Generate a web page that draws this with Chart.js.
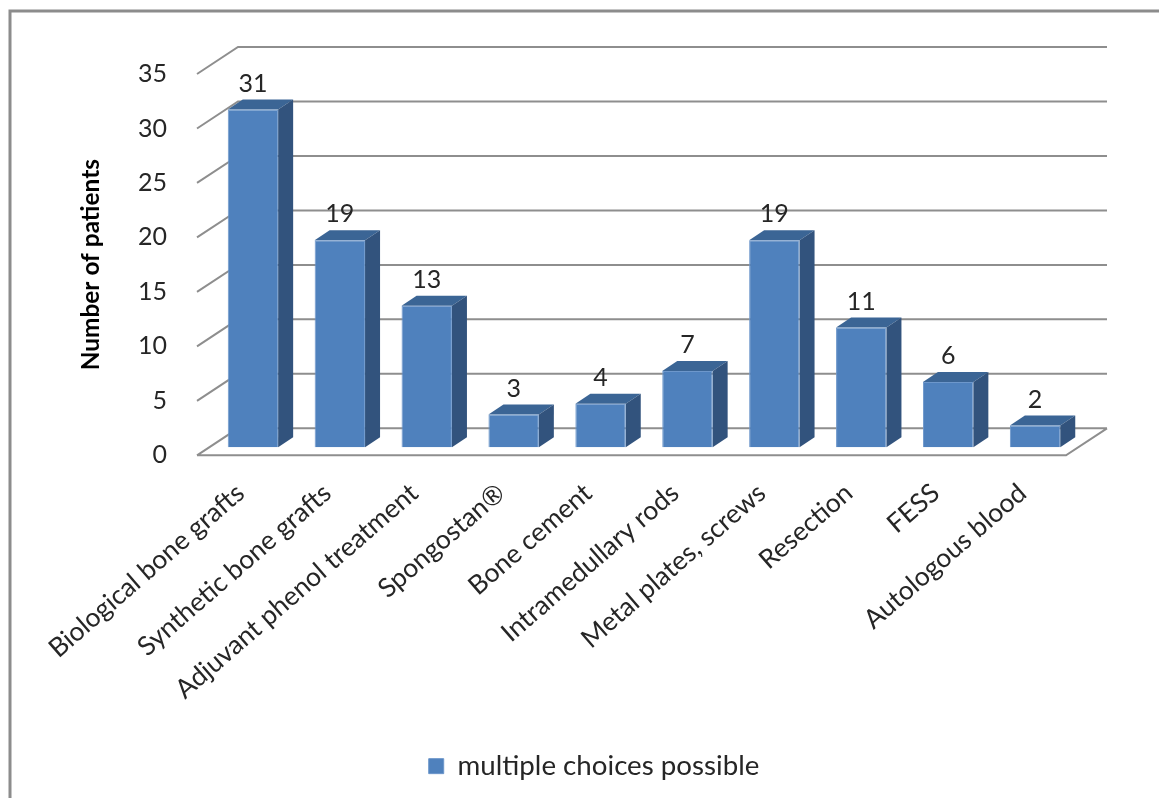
<!DOCTYPE html>
<html>
<head>
<meta charset="utf-8">
<title>Number of patients</title>
<script src="https://cdn.jsdelivr.net/npm/chart.js@4"></script>
<style>
  html, body { margin: 0; padding: 0; background: #fff; overflow: hidden; }
  canvas { display: block; }
</style>
</head>
<body>
<canvas id="chart" width="1159" height="798"></canvas>
<script>
const categories = [
  "Biological bone grafts",
  "Synthetic bone grafts",
  "Adjuvant phenol treatment",
  "Spongostan®",
  "Bone cement",
  "Intramedullary rods",
  "Metal plates, screws",
  "Resection",
  "FESS",
  "Autologous blood",
];
const patientCounts = [31, 19, 13, 3, 4, 7, 19, 11, 6, 2];
const seriesLabel = "multiple choices possible";
const axisTitle = "Number of patients";
const axisMax = 35;
const axisStep = 5;

const FONT = "Lato, 'Open Sans', sans-serif";
const GRID = "#8e8e8e";
const FRONT = "#4f81bd";
const TOP_FACE = "#3b6595";
const SIDE_FACE = "#32537d";

// floor depth of the box, and where the bars stand inside it
const WALL = { dx: 41, dy: -27 };
const BAR_SHIFT = { dx: 12.5, dy: -8 };
const BAR_DEPTH = { dx: 15, dy: -10 };

function poly(ctx, pts, fill) {
  ctx.beginPath();
  pts.forEach((p, i) => (i ? ctx.lineTo(p[0], p[1]) : ctx.moveTo(p[0], p[1])));
  ctx.closePath();
  ctx.fillStyle = fill;
  ctx.fill();
}

// outer frame, only top and left edges are visible
const framePlugin = {
  id: "frame",
  // legend is centred on the page, not on the plot
  afterLayout(chart) {
    chart.legend.left += 61;
    chart.legend.right += 61;
  },
  beforeDraw(chart) {
    const ctx = chart.ctx;
    ctx.save();
    ctx.strokeStyle = "#8c8c8c";
    ctx.lineWidth = 3;
    ctx.beginPath();
    ctx.moveTo(10, chart.height);
    ctx.lineTo(10, 11);
    ctx.lineTo(chart.width, 11);
    ctx.stroke();
    ctx.restore();
  },
};

// fake 3D: wall lines, floor, bar sides and value labels
const boxPlugin = {
  id: "box",
  beforeDatasetsDraw(chart) {
    const ctx = chart.ctx;
    const { left, right } = chart.chartArea;
    const y = chart.scales.y;
    ctx.save();
    ctx.strokeStyle = GRID;
    ctx.lineWidth = 2;
    ctx.beginPath();
    for (let v = 0; v <= axisMax; v += axisStep) {
      const py = y.getPixelForValue(v);
      ctx.moveTo(left, py);
      ctx.lineTo(left + WALL.dx, py + WALL.dy);
      ctx.lineTo(right + WALL.dx, py + WALL.dy);
    }
    const py0 = y.getPixelForValue(0);
    ctx.moveTo(left, py0);
    ctx.lineTo(right, py0);
    ctx.lineTo(right + WALL.dx, py0 + WALL.dy);
    ctx.stroke();
    ctx.restore();

    ctx.save();
    ctx.translate(BAR_SHIFT.dx, BAR_SHIFT.dy);
    chart.getDatasetMeta(0).data.forEach((bar) => {
      const l = bar.x - bar.width / 2;
      const r = bar.x + bar.width / 2;
      const d = BAR_DEPTH;
      poly(ctx, [[l, bar.y], [l + d.dx, bar.y + d.dy], [r + d.dx, bar.y + d.dy], [r, bar.y]], TOP_FACE);
      poly(ctx, [[r, bar.y], [r + d.dx, bar.y + d.dy], [r + d.dx, bar.base + d.dy], [r, bar.base]], SIDE_FACE);
    });
  },
  afterDatasetsDraw(chart) {
    const ctx = chart.ctx;
    ctx.restore();
    ctx.save();
    ctx.font = "25px " + FONT;
    ctx.fillStyle = "#262626";
    ctx.textAlign = "center";
    ctx.textBaseline = "middle";
    chart.getDatasetMeta(0).data.forEach((bar, i) => {
      ctx.fillText(String(patientCounts[i]), bar.x + BAR_SHIFT.dx, bar.y + BAR_SHIFT.dy - 26);
    });
    ctx.restore();
  },
};

new Chart(document.getElementById("chart"), {
  type: "bar",
  data: {
    labels: categories,
    datasets: [
      {
        label: seriesLabel,
        data: patientCounts,
        backgroundColor: FRONT,
        borderColor: "#6d97cb",
        borderWidth: 1,
        barPercentage: 0.58,
        categoryPercentage: 1,
        clip: false,
      },
    ],
  },
  options: {
    responsive: false,
    animation: false,
    layout: { padding: { left: 0, right: 93, top: 74, bottom: 8 } },
    plugins: {
      legend: {
        position: "bottom",
        labels: {
          boxWidth: 15,
          boxHeight: 15,
          color: "#262626",
          font: { family: FONT, size: 27.7 },
        },
      },
      tooltip: { enabled: false },
    },
    scales: {
      x: {
        grid: { display: false, drawTicks: false },
        border: { display: false },
        ticks: {
          color: "#262626",
          font: { family: FONT, size: 26.4 },
          minRotation: 41,
          maxRotation: 41,
          padding: 22,
          autoSkip: false,
        },
        afterFit(scale) {
          scale.height = 287;
        },
      },
      y: {
        min: 0,
        max: axisMax,
        grid: { display: false, drawTicks: false },
        border: { display: false },
        ticks: {
          stepSize: axisStep,
          color: "#262626",
          font: { family: FONT, size: 25 },
          padding: 30,
        },
        title: {
          display: true,
          text: axisTitle,
          color: "#000",
          font: { family: FONT, size: 24.4, weight: "bold" },
          padding: { top: 77, bottom: 0 },
        },
        afterFit(scale) {
          scale.width = 197;
        },
      },
    },
  },
  plugins: [framePlugin, boxPlugin],
});
</script>
</body>
</html>
